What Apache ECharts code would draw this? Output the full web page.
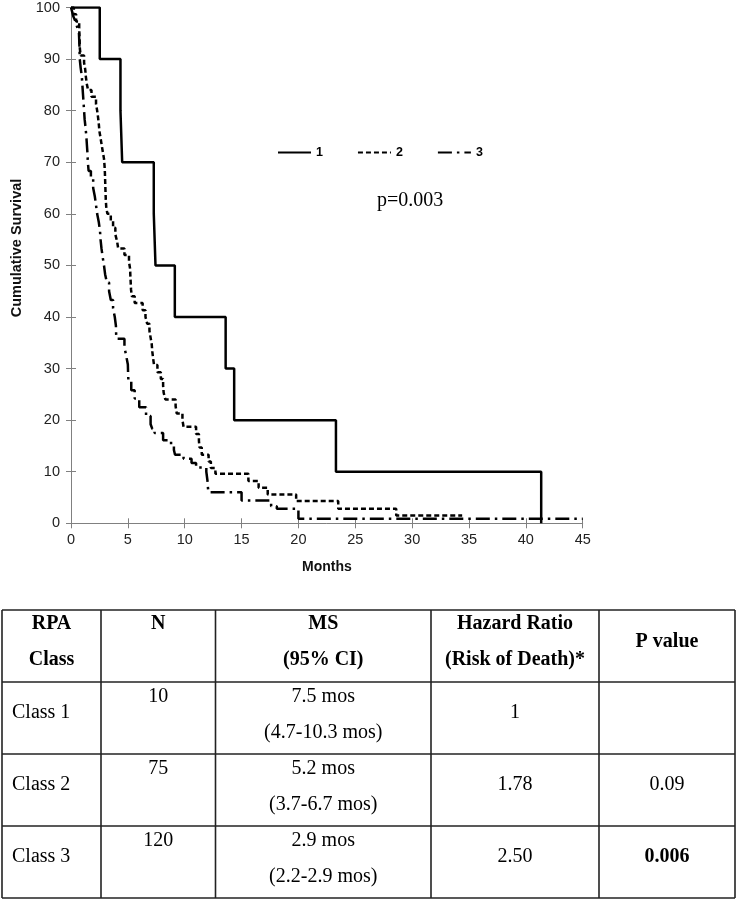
<!DOCTYPE html>
<html>
<head>
<meta charset="utf-8">
<script src="https://cdn.jsdelivr.net/npm/echarts@6/dist/echarts.min.js"></script>
<style>html,body{margin:0;padding:0;background:#fff}#c{width:737px;height:901px}</style>
</head>
<body>
<div id="c"></div>
<script>
// ---- Data ----
const xTicks = [0, 5, 10, 15, 20, 25, 30, 35, 40, 45];
const yTicks = [0, 10, 20, 30, 40, 50, 60, 70, 80, 90, 100];
const seriesNames = ['1', '2', '3'];
const xAxisTitle = 'Months';
const yAxisTitle = 'Cumulative Survival';
// Class 1 (N=10): [months, cumulative survival %]
const class1 = [[0,100],[2.53,90],[4.35,80],[4.5,70],[7.28,60],[7.43,50],[9.13,40],[13.6,30],[14.35,20],[23.3,10],[41.35,0]];
// Class 2 (N=75)
const class2 = [[0,100],[0.25,98.7],[0.45,97.3],[0.72,96],[0.74,94.7],[0.76,93.3],[0.78,92],[0.85,90.7],[1.15,89.3],[1.25,88],[1.3,86.7],[1.38,85.3],[1.5,84],[1.8,82.7],[2.2,81.3],[2.3,80],[2.38,78.7],[2.45,77.3],[2.5,76],[2.6,74.7],[2.7,73.3],[2.8,72],[2.9,70.7],[2.95,69.3],[2.98,68],[3.0,66.7],[3.02,65.3],[3.04,64],[3.06,62.7],[3.1,61.3],[3.2,60],[3.5,58.7],[3.7,57.3],[3.9,56],[4.05,54.7],[4.15,53.3],[4.7,52],[5.1,50.7],[5.2,49.3],[5.22,48],[5.25,46.7],[5.28,45.3],[5.35,44],[5.6,42.7],[6.3,41.3],[6.55,40],[6.7,38.7],[6.9,37.3],[7.0,36],[7.1,34.7],[7.15,33.3],[7.22,32],[7.3,30.7],[7.6,29.3],[7.9,28],[8.1,26.7],[8.15,25.3],[8.3,24],[9.2,22.7],[9.3,21.3],[9.8,20],[9.9,18.7],[11.0,17.3],[11.25,16],[11.3,14.7],[11.5,13.3],[12.1,12],[12.3,10.7],[12.7,9.6],[15.6,8.2],[16.5,6.9],[17.3,5.6],[19.8,4.3],[23.5,2.8],[28.6,1.5],[34.4,1.5]];
// Class 3 (N=120)
const class3 = [[0,100],[0.1,99.2],[0.2,98.3],[0.35,97.5],[0.47,96.7],[0.6,95.8],[0.7,95],[0.73,93.3],[0.75,91.7],[0.77,90],[0.85,88.3],[0.95,86.7],[1.0,85],[1.05,83.3],[1.1,81.7],[1.15,80],[1.2,78.3],[1.28,76.7],[1.35,75],[1.4,73.3],[1.45,71.7],[1.48,70],[1.55,68.3],[1.75,66.7],[1.95,65],[2.1,63.3],[2.2,61.7],[2.3,60],[2.45,58.3],[2.55,56.7],[2.6,55],[2.68,53.3],[2.78,51.7],[2.9,50],[3.0,48.3],[3.15,46.7],[3.35,45],[3.5,43.3],[3.7,41.7],[3.85,40],[3.95,38.3],[3.97,36.7],[4.0,35.8],[4.7,34.2],[4.85,32.5],[5.0,30.8],[5.02,29.2],[5.05,27.5],[5.3,25.8],[5.6,24.2],[6.0,22.5],[6.6,20.8],[7.0,19.2],[7.15,18.3],[7.35,17.5],[8.1,16.1],[8.8,15],[9.05,14.2],[9.15,13.3],[9.9,12.5],[10.6,11.7],[11.0,10.8],[11.9,10],[12.0,8.3],[12.05,6.7],[12.1,6.0],[15.0,4.4],[17.6,3.3],[18.1,2.8],[20.0,0.9],[45,0.9]];
const pText = 'p=0.003';
// Table
const tableHeaders = [['RPA','Class'],['N'],['MS','(95% CI)'],['Hazard Ratio','(Risk of Death)*'],['P value']];
const rpaClasses = ['Class 1','Class 2','Class 3'];
const nValues = ['10','75','120'];
const msValues = ['7.5 mos','5.2 mos','2.9 mos'];
const msCI = ['(4.7-10.3 mos)','(3.7-6.7 mos)','(2.2-2.9 mos)'];
const hazardRatios = ['1','1.78','2.50'];
const pValues = ['','0.09','0.006'];
const pBold = [false,false,true];

// ---- Layout ----
const colX = [2, 101, 215.5, 431, 599, 735];
const rowY = [610, 682, 754, 826, 898];
const serif = '"Liberation Serif","Times New Roman",serif';
const sans = '"Liberation Sans",Arial,sans-serif';

const chart = echarts.init(document.getElementById('c'), null, {renderer:'canvas'});

const graphics = [];
const lineC = '#222';
for (const y of rowY) graphics.push({type:'line', shape:{x1:colX[0],y1:y,x2:colX[5],y2:y}, style:{stroke:lineC,lineWidth:1.6}, silent:true});
for (const x of colX) graphics.push({type:'line', shape:{x1:x,y1:rowY[0],x2:x,y2:rowY[4]}, style:{stroke:lineC,lineWidth:1.6}, silent:true});
function txt(str, x, y, bold, align){
  graphics.push({type:'text', x:x, y:y, style:{text:str, fill:'#000', font:(bold?'bold ':'')+'20px '+serif, textAlign:align||'center', textVerticalAlign:'middle'}, silent:true});
}
tableHeaders.forEach((h,i)=>{
  const cx = (colX[i]+colX[i+1])/2;
  if (h.length === 2){ txt(h[0], cx, rowY[0]+14, true); txt(h[1], cx, rowY[0]+50, true); }
  else if (i === 4) txt(h[0], cx, (rowY[0]+rowY[1])/2-4, true);
  else txt(h[0], cx, rowY[0]+14, true);
});
for (let r=0;r<3;r++){
  const top = rowY[r+1];
  txt(rpaClasses[r], colX[0]+10, top+31, false, 'left');
  txt(nValues[r], (colX[1]+colX[2])/2, top+15, false);
  txt(msValues[r], (colX[2]+colX[3])/2, top+15, false);
  txt(msCI[r], (colX[2]+colX[3])/2, top+51, false);
  txt(hazardRatios[r], (colX[3]+colX[4])/2, top+31, false);
  if (pValues[r]) txt(pValues[r], (colX[4]+colX[5])/2, top+31, pBold[r]);
}
// p-value annotation
graphics.push({type:'text', x:377, y:201, style:{text:pText, fill:'#000', font:'20px '+serif, textAlign:'left', textVerticalAlign:'middle'}, silent:true});
// y axis title (rotated)
graphics.push({type:'text', x:17, y:248, rotation:Math.PI/2, style:{text:yAxisTitle, fill:'#111', font:'bold 14.5px '+sans, textAlign:'center', textVerticalAlign:'middle'}, silent:true});

const axisCol = '#808080';
const option = {
  backgroundColor:'#fff',
  animation:false,
  grid:{left:71, right:154.3, top:6.7, bottom:377.7, containLabel:false},
  legend:{
    show:true, orient:'horizontal', padding:0,
    data:seriesNames, left:277, top:146, itemWidth:33, itemHeight:14, itemGap:34,
    itemStyle:{opacity:0},
    textStyle:{fontFamily:sans, fontWeight:'bold', fontSize:12.5, color:'#000'}
  },
  xAxis:[{
    type:'value', min:0, max:45, interval:5,
    name:xAxisTitle, nameLocation:'middle', nameGap:37,
    nameTextStyle:{fontFamily:sans, fontWeight:'bold', fontSize:14, color:'#111'},
    axisLine:{lineStyle:{color:axisCol, width:1}},
    axisTick:{length:5, lineStyle:{color:axisCol}},
    axisLabel:{fontFamily:sans, fontSize:14.5, color:'#222', margin:9,
      formatter:(v)=> xTicks.includes(v) ? String(v) : ''},
    splitLine:{show:false}
  },{
    type:'value', min:0, max:45, interval:5, position:'bottom',
    axisLine:{show:false}, axisTick:{inside:true, length:5, lineStyle:{color:axisCol}},
    axisLabel:{show:false}, splitLine:{show:false}
  }],
  yAxis:[{
    type:'value', min:0, max:100, interval:10,
    axisLine:{show:true, lineStyle:{color:axisCol, width:1}},
    axisTick:{show:true, length:5, lineStyle:{color:axisCol}},
    axisLabel:{fontFamily:sans, fontSize:14.5, color:'#222', margin:11,
      formatter:(v)=> yTicks.includes(v) ? String(v) : ''},
    splitLine:{show:false}
  },{
    type:'value', min:0, max:100, interval:10, position:'left',
    axisLine:{show:false}, axisTick:{show:true, inside:true, length:5, lineStyle:{color:axisCol}},
    axisLabel:{show:false}, splitLine:{show:false}
  }],
  series:[
    {name:seriesNames[0], type:'line', step:'end', data:class1, symbol:'none', z:3,
      lineStyle:{color:'#000', width:2.5, type:'solid'}, itemStyle:{color:'#000'}},
    {name:seriesNames[1], type:'line', step:'end', data:class2, symbol:'none', z:2,
      lineStyle:{color:'#000', width:2.5, type:[5,3]}, itemStyle:{color:'#000'}},
    {name:seriesNames[2], type:'line', step:'end', data:class3, symbol:'none', z:2,
      lineStyle:{color:'#000', width:2.5, type:[14,5,2.5,5]}, itemStyle:{color:'#000'}}
  ],
  graphic:graphics
};
chart.setOption(option);
</script>
</body>
</html>
